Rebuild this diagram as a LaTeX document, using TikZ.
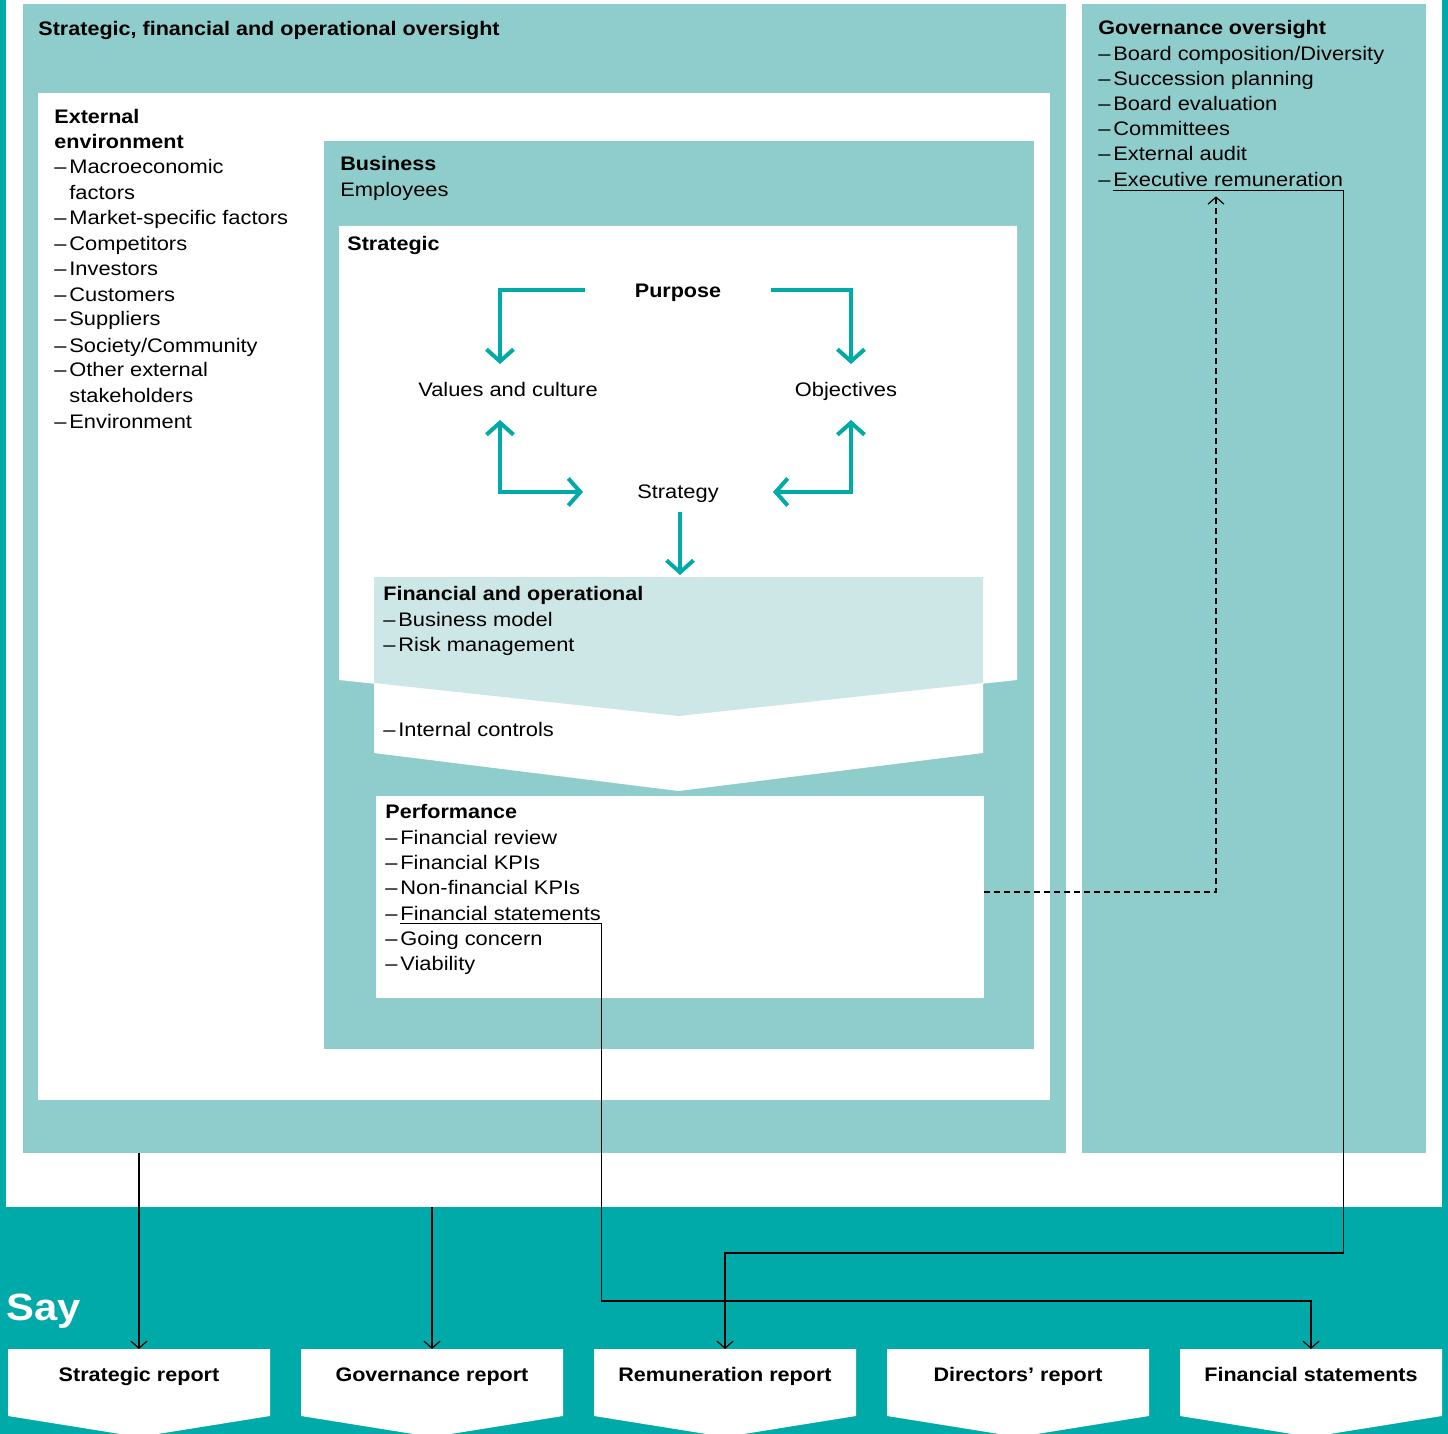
\documentclass[tikz,border=0pt]{standalone}
\usepackage{fontspec}
\setmainfont{Liberation Sans}[FakeStretch=1.115,BoldFeatures={FakeStretch=1.1}]
\usetikzlibrary{arrows.meta,calc,fit}
\definecolor{tealD}{RGB}{0,170,169}
\definecolor{tealL}{RGB}{143,205,204}
\definecolor{tealP}{RGB}{205,231,230}
\newcommand\dsh{\makebox[7.5pt][l]{–}}
\newcommand\ind{\hspace*{7.5pt}}
\newcommand\area[6]{\path (#2,#3) coordinate (#1-a) (#4,#5) coordinate (#1-b);
  \node[region,fit=(#1-a)(#1-b),#6] (#1) {};}
\newcommand\report[3]{%
  \fill[white] (#2-131,1349) -- (#2+131,1349) -- (#2+131,1416) -- (#2,1437) -- (#2-131,1416) -- cycle;
  \path (#2-131,1349) coordinate (#1-a) (#2+131,1416) coordinate (#1-b);
  \node[region,fit=(#1-a)(#1-b)] (#1) {};
  \node[bctxt] (#1-t) at (#2,1381) {#3};}
\begin{document}
\begin{tikzpicture}[x=0.5pt,y=-0.5pt,
  txt/.style={anchor=base west,inner sep=0pt,font=\fontsize{9.8}{12}\selectfont},
  btxt/.style={txt,font=\bfseries\fontsize{9.8}{12}\selectfont},
  ctxt/.style={txt,anchor=base},
  bctxt/.style={btxt,anchor=base},
  uline/.style={txt,inner ysep=1.4pt},
  region/.style={inner sep=0pt,outer sep=0pt},
  tb/.tip={Straight Barb[length=6pt,width=13.5pt]},
  kb/.tip={Straight Barb[length=3.5pt,width=8pt]},
  tarrow/.style={draw=tealD,line width=2pt,-tb},
  tdouble/.style={draw=tealD,line width=2pt,tb-tb},
  conn/.style={draw=black,line width=0.6pt,-kb},
  dconn/.style={conn,dash pattern=on 3pt off 2pt}]
\useasboundingbox (0,0) rectangle (1448,1434);
% backgrounds
\area{bg}{0}{0}{1448}{1434}{fill=tealD}
\area{frame}{6}{0}{1442}{1207}{fill=white}
\area{sfo}{23}{4}{1066}{1153}{fill=tealL}
\area{gov}{1082}{4}{1426}{1153}{fill=tealL}
\area{inner}{38}{93}{1050}{1100}{fill=white}
\area{business}{324}{141}{1034}{1049}{fill=tealL}
% internal controls chevron
\fill[white] (374,680) -- (983,680) -- (983,753) -- (678.5,791) -- (374,753) -- cycle;
\area{intc}{374}{683}{983}{791}{}
% strategic chevron
\fill[white] (339,226) -- (1017,226) -- (1017,680) -- (678.5,716) -- (339,680) -- cycle;
\area{strat}{339}{226}{1017}{716}{}
% financial and operational chevron
\fill[tealP] (374,577) -- (983,577) -- (983,683) -- (678.5,716) -- (374,683) -- cycle;
\area{finop}{374}{577}{983}{716}{}
% performance
\area{perf}{376}{796}{984}{998}{fill=white}
% reports
\report{srep}{139}{Strategic report}
\report{grep}{432}{Governance report}
\report{remrep}{725}{Remuneration report}
\report{drep}{1018}{Directors’ report}
\report{fsrep}{1311}{Financial statements}
% texts
\node[btxt] (sfot) at (38,36) {Strategic, financial and operational oversight};
\node[btxt] (ext1) at (54,124) {External};
\node[btxt] (ext2) at (54,149) {environment};
\node[txt] (ext3) at (54,174) {\dsh Macroeconomic};
\node[txt] (ext4) at (54,200) {\ind factors};
\node[txt] (ext5) at (54,225) {\dsh Market-specific factors};
\node[txt] (ext6) at (54,250) {\dsh Competitors};
\node[txt] (ext7) at (54,276) {\dsh Investors};
\node[txt] (ext8) at (54,301) {\dsh Customers};
\node[txt] (ext9) at (54,326) {\dsh Suppliers};
\node[txt] (ext10) at (54,352) {\dsh Society/Community};
\node[txt] (ext11) at (54,377) {\dsh Other external};
\node[txt] (ext12) at (54,402) {\ind stakeholders};
\node[txt] (ext13) at (54,428) {\dsh Environment};
\node[btxt] (bus1) at (340,171) {Business};
\node[txt] (bus2) at (340,197) {Employees};
\node[btxt] (strt) at (347,250) {Strategic};
\node[bctxt] (purpose) at (678,298) {Purpose};
\node[ctxt] (values) at (508,396) {Values and culture};
\node[ctxt] (objectives) at (846,396) {Objectives};
\node[ctxt] (strategy) at (678,498) {Strategy};
\node[btxt] (fo1) at (383,600) {Financial and operational};
\node[txt] (fo2) at (383,626) {\dsh Business model};
\node[txt] (fo3) at (383,651) {\dsh Risk management};
\node[txt] (ic1) at (383,736) {\dsh Internal controls};
\node[btxt] (pf1) at (385,818) {Performance};
\node[txt] (pf2) at (385,844) {\dsh Financial review};
\node[txt] (pf3) at (385,869) {\dsh Financial KPIs};
\node[txt] (pf4) at (385,894) {\dsh Non-financial KPIs};
\node[txt] (pf5) at (385,920) {\dsh};
\node[uline] (fsitem) at (400,920) {Financial statements};
\node[txt] (pf6) at (385,945) {\dsh Going concern};
\node[txt] (pf7) at (385,970) {\dsh Viability};
\node[btxt] (gv1) at (1098,35) {Governance oversight};
\node[txt] (gv2) at (1098,61) {\dsh Board composition/Diversity};
\node[txt] (gv3) at (1098,86) {\dsh Succession planning};
\node[txt] (gv4) at (1098,111) {\dsh Board evaluation};
\node[txt] (gv5) at (1098,136) {\dsh Committees};
\node[txt] (gv6) at (1098,161) {\dsh External audit};
\node[txt] (gv7) at (1098,187) {\dsh};
\node[uline] (execrem) at (1113,187) {Executive remuneration};
\node[txt,text=white,font=\bfseries\fontsize{19}{23}\selectfont] (say) at (6,1320) {Say};
% teal arrows
\draw[tarrow] ($(purpose.base)+(-93,-8)$) -| ($(values.base)+(-8,-32)$);
\draw[tarrow] ($(purpose.base)+(93,-8)$) -| ($(objectives.base)+(5,-32)$);
\draw[tdouble] ($(values.base)+(-8,24)$) |- ($(strategy.base)+(-95,-6)$);
\draw[tdouble] ($(objectives.base)+(5,24)$) |- ($(strategy.base)+(95,-6)$);
\draw[tarrow] ($(strategy.base)+(2,14)$) -- ($(finop.north)+(1.5,-2)$);
% black connectors
\draw[conn] (sfo.south -| srep.north) -- (srep.north);
\draw[conn] (frame.south -| grep.north) -- (grep.north);
\draw[conn] (execrem.south west) -- (execrem.south east) |- ($(remrep.north)+(0,-96)$) -- (remrep.north);
\draw[conn] (fsitem.south west) -- (fsitem.south east) |- ($(fsrep.north)+(0,-48)$) -- (fsrep.north);
\draw[dconn] ($(perf.east)+(0,-5)$) -| ($(execrem.south west)+(103,6)$);
\end{tikzpicture}
\end{document}
